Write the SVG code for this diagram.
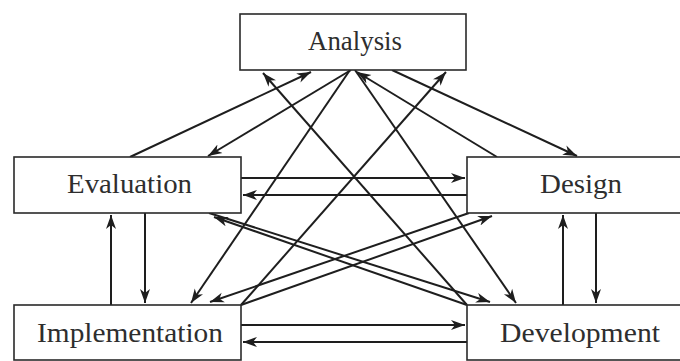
<svg xmlns="http://www.w3.org/2000/svg" width="680" height="361" viewBox="0 0 680 361">
<defs>
<marker id="ah" markerUnits="userSpaceOnUse" markerWidth="16" markerHeight="12" refX="14" refY="5.5" orient="auto">
<path d="M0,0.5 L14,5.5 L0,10.5 L4,5.5 Z" fill="#1e1e1e"/>
</marker>
<style>
.box{fill:#fff;stroke:#2a2a2a;stroke-width:1.6}
.lbl{font-family:"Liberation Serif","DejaVu Serif",serif;font-size:28px;fill:#2e2e2e;text-anchor:middle}
.c{stroke:#1e1e1e;stroke-width:2;fill:none;marker-end:url(#ah)}
</style>
</defs>
<rect width="680" height="361" fill="#fff"/>
<g id="connectors">
<line class="c" x1="130" y1="157" x2="311" y2="72"/>
<line class="c" x1="351" y1="70" x2="208" y2="156"/>
<line class="c" x1="497" y1="157" x2="357" y2="72"/>
<line class="c" x1="392" y1="70" x2="577" y2="156"/>
<line class="c" x1="350" y1="70" x2="191" y2="303"/>
<line class="c" x1="241" y1="305" x2="446" y2="72"/>
<line class="c" x1="355" y1="70" x2="516" y2="303"/>
<line class="c" x1="467" y1="305" x2="263" y2="73"/>
<line class="c" x1="209" y1="213" x2="490" y2="302"/>
<line class="c" x1="467" y1="305" x2="214" y2="217"/>
<line class="c" x1="241" y1="305" x2="492" y2="216"/>
<line class="c" x1="469" y1="213" x2="210" y2="302"/>
<line class="c" x1="241" y1="178" x2="465" y2="178"/>
<line class="c" x1="467" y1="195" x2="243" y2="195"/>
<line class="c" x1="241" y1="325" x2="465" y2="325"/>
<line class="c" x1="467" y1="342" x2="243" y2="342"/>
<line class="c" x1="111" y1="305" x2="111" y2="215"/>
<line class="c" x1="145" y1="213" x2="145" y2="303"/>
<line class="c" x1="563" y1="305" x2="563" y2="215"/>
<line class="c" x1="596" y1="213" x2="596" y2="303"/>
</g>
<g id="analysis">
<rect class="box" x="240" y="14" width="226" height="56"/>
<text class="lbl" x="355" y="50" textLength="94" lengthAdjust="spacingAndGlyphs">Analysis</text>
</g>
<g id="evaluation">
<rect class="box" x="14" y="157" width="227" height="56"/>
<text class="lbl" x="129.5" y="193" textLength="125" lengthAdjust="spacingAndGlyphs">Evaluation</text>
</g>
<g id="design">
<rect class="box" x="467" y="157" width="230" height="56"/>
<text class="lbl" x="581" y="193" textLength="82" lengthAdjust="spacingAndGlyphs">Design</text>
</g>
<g id="implementation">
<rect class="box" x="14" y="305" width="227" height="55"/>
<text class="lbl" x="130" y="342" textLength="186" lengthAdjust="spacingAndGlyphs">Implementation</text>
</g>
<g id="development">
<rect class="box" x="467" y="305" width="230" height="55"/>
<text class="lbl" x="580" y="342" textLength="160" lengthAdjust="spacingAndGlyphs">Development</text>
</g>
</svg>
